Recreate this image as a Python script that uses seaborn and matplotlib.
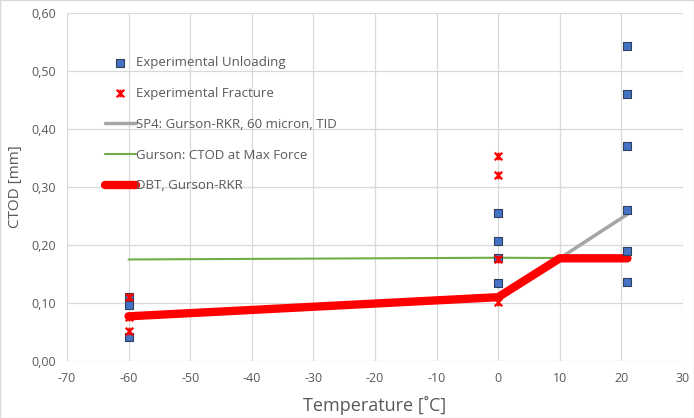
import matplotlib
matplotlib.use("Agg")
import matplotlib.pyplot as plt
from matplotlib.path import Path
import seaborn as sns

unload_T = [-60, -60, -60, 0, 0, 0, 0, 21, 21, 21, 21, 21, 21]
unload_ctod = [0.110, 0.096, 0.042, 0.255, 0.207, 0.178, 0.134, 0.543, 0.460, 0.371, 0.260, 0.190, 0.136]

frac_T = [-60, -60, -60, 0, 0, 0, 0]
frac_ctod = [0.111, 0.076, 0.052, 0.353, 0.320, 0.175, 0.101]

sp4_T = [-60, 0, 10, 21]
sp4_ctod = [0.077, 0.110, 0.177, 0.253]

gurson_T = [-60, 0, 21]
gurson_ctod = [0.175, 0.178, 0.177]

dbt_T = [-60, 0, 10, 21]
dbt_ctod = [0.077, 0.110, 0.177, 0.177]

xticks = list(range(-70, 31, 10))
yticks = [0.0, 0.1, 0.2, 0.3, 0.4, 0.5, 0.6]
ytick_labels = ["0,00", "0,10", "0,20", "0,30", "0,40", "0,50", "0,60"]

sns.set_theme(style="white")
plt.rcParams['font.family'] = ['Open Sans', 'DejaVu Sans']
txt = "#595959"

# Excel-like star marker: an x with a vertical bar
star = Path([(-1, -1), (1, 1), (-1, 1), (1, -1), (0, -1), (0, 1)],
            [Path.MOVETO, Path.LINETO, Path.MOVETO, Path.LINETO, Path.MOVETO, Path.LINETO])

fig = plt.figure(figsize=(6.94, 4.18), dpi=100)
ax = fig.add_axes([0.0965, 0.1364, 0.8875, 0.8326])

sns.lineplot(x=sp4_T, y=sp4_ctod, ax=ax, color="#A5A5A5", linewidth=2.5,
             label="SP4: Gurson-RKR, 60 micron, TID", zorder=2)
sns.lineplot(x=gurson_T, y=gurson_ctod, ax=ax, color="#70AD47", linewidth=1.5,
             label="Gurson: CTOD at Max Force", zorder=3)
sns.lineplot(x=dbt_T, y=dbt_ctod, ax=ax, color="#FF0000", linewidth=6,
             label="DBT, Gurson-RKR", zorder=4)
sns.scatterplot(x=unload_T, y=unload_ctod, ax=ax, marker="s", s=30,
                color="#4472C4", edgecolor="#2F3F5F", linewidth=0.8,
                label="Experimental Unloading", zorder=5)
sns.scatterplot(x=frac_T, y=frac_ctod, ax=ax, marker=star, s=30,
                color="#FF0000", edgecolor="#FF0000", linewidth=1.6,
                label="Experimental Fracture", zorder=6)

ax.set_xlim(-70, 30)
ax.set_ylim(0, 0.6)
ax.set_xticks(xticks)
ax.set_xticklabels([str(t) for t in xticks])
ax.set_yticks(yticks)
ax.set_yticklabels(ytick_labels)
ax.grid(True, color="#D9D9D9", linewidth=0.9)
ax.set_axisbelow(True)
for s in ax.spines.values():
    s.set_visible(False)
ax.tick_params(axis="both", colors=txt, labelsize=9, length=0, pad=8)
ax.set_xlabel("Temperature [˚C]", color=txt, fontsize=13, labelpad=8)
ax.set_ylabel("CTOD [mm]", color=txt, fontsize=11, labelpad=6)

handles, labels = ax.get_legend_handles_labels()
order = [3, 4, 0, 1, 2]
leg = ax.legend([handles[i] for i in order], [labels[i] for i in order],
                loc="upper left", bbox_to_anchor=(0.062, 0.876), frameon=False,
                fontsize=9.5, labelspacing=1.35, handlelength=2.3,
                handletextpad=0.05, borderaxespad=0, borderpad=0)
for t in leg.get_texts():
    t.set_color(txt)

fig.patches.append(plt.Rectangle((0, 0), 1, 1, transform=fig.transFigure,
                                 fill=False, edgecolor="#D9D9D9", linewidth=1))
fig.savefig("out.png", dpi=100)
